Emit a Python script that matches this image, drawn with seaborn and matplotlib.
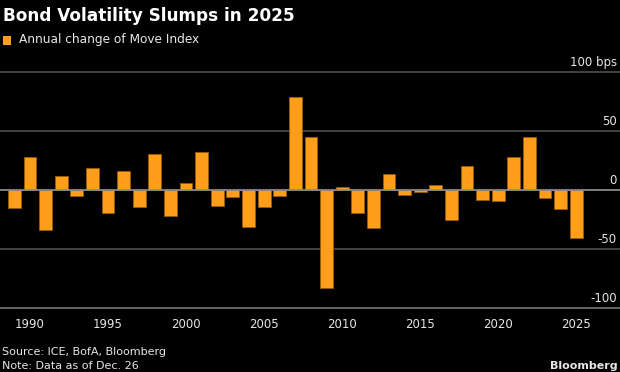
import matplotlib
matplotlib.use("Agg")
import matplotlib.pyplot as plt
import matplotlib.transforms as mtransforms
from matplotlib.ticker import MultipleLocator
import seaborn as sns
import pandas as pd

years = list(range(1989, 2026))
changes = [-15.3, 28.2, -33.6, 12.1, -5.6, 18.4, -19.5, 16.1, -14.1, 30.5,
           -22.3, 5.9, 32.3, -13.6, -5.9, -31.4, -14.7, -5.4, 78.2, 44.4,
           -82.8, 2.8, -19.5, -31.9, 13.8, -4.6, -1.4, 3.7, -25.1, 19.8,
           -8.2, -9.3, 28.0, 44.4, -7.1, -16.1, -40.4]
y_ticks = [100, 50, 0, -50, -100]
y_labels = ["100 bps", "50", "0", "-50", "-100"]
x_ticks = [1990, 1995, 2000, 2005, 2010, 2015, 2020, 2025]

title = "Bond Volatility Slumps in 2025"
legend_label = "Annual change of Move Index"
source = "Source: ICE, BofA, Bloomberg"
note = "Note: Data as of Dec. 26"

df = pd.DataFrame({"year": years, "change": changes})

sns.set_style("dark")
plt.rcParams["font.family"] = ["DejaVu Sans"]

BG = "#000000"
ORANGE = "#FF9E1B"
fig = plt.figure(figsize=(6.2, 3.72), dpi=100, facecolor=BG)
ax = fig.add_axes([0.0, 1 - 308 / 372, 1.0, (308 - 65.8) / 372])
ax.set_facecolor(BG)

for v in y_ticks[:-1]:
    if v == 0:
        continue
    ax.axhline(v, color="#4a4a4a", lw=1.3, zorder=0)

sns.barplot(data=df, x="year", y="change", native_scale=True, width=0.82,
            color=ORANGE, edgecolor="#9a5a08", linewidth=0.6, ax=ax,
            saturation=1, zorder=2)
ax.axhline(0, color="#8a8a8a", lw=1.3, zorder=3)

ax.set_xlim(1988.08, 2027.8)
ax.set_ylim(-100, 105)
ax.set_xlabel("")
ax.set_ylabel("")
ax.grid(False)
for s in ["top", "right", "left"]:
    ax.spines[s].set_visible(False)
ax.spines["bottom"].set_visible(True)
ax.spines["bottom"].set_color("#6a6a6a")
ax.spines["bottom"].set_linewidth(1.3)

ax.set_xticks(x_ticks)
ax.set_xticklabels([str(t) for t in x_ticks])
ax.xaxis.set_minor_locator(MultipleLocator(1))
ax.tick_params(axis="x", which="major", length=6, width=1, color="#8a8a8a",
               labelcolor="#e6e6e6", labelsize=8.5, pad=4, direction="inout")
ax.tick_params(axis="x", which="minor", length=3, width=0.8, color="#7a7a7a",
               direction="inout")
ax.set_yticks([])

trans = mtransforms.blended_transform_factory(ax.transAxes, ax.transData)
for v, lab in zip(y_ticks, y_labels):
    ax.text(0.995, v + 2.6, lab, transform=trans, ha="right", va="bottom",
            color="#e6e6e6", fontsize=8.5, zorder=4)

fig.text(0.005, 0.958, title, color="white", fontsize=12.2, fontweight="heavy",
         ha="left", va="center")
fig.patches.append(plt.Rectangle((3 / 620, 1 - 45 / 372), 8 / 620, 9 / 372,
                                 transform=fig.transFigure, facecolor=ORANGE,
                                 edgecolor="none"))
fig.text(19 / 620, 1 - 40 / 372, legend_label, color="#e6e6e6", fontsize=8.7,
         ha="left", va="center")
fig.text(2 / 620, 1 - 352 / 372, source, color="#e6e6e6", fontsize=8,
         ha="left", va="center")
fig.text(2 / 620, 1 - 366 / 372, note, color="#e6e6e6", fontsize=8,
         ha="left", va="center")
fig.text(618 / 620, 1 - 366 / 372, "Bloomberg", color="#e6e6e6", fontsize=8,
         fontweight="bold", ha="right", va="center")

fig.savefig("out.png", dpi=100, facecolor=BG)
